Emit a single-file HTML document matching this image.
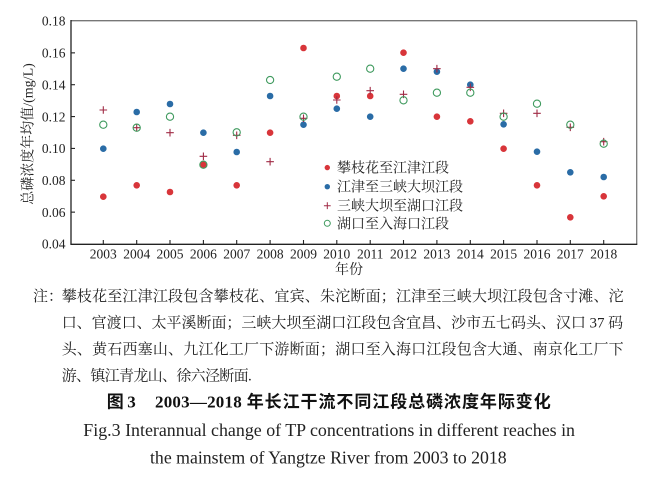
<!DOCTYPE html>
<html><head><meta charset="utf-8"><style>
html,body{margin:0;padding:0;background:#fff;}
svg{display:block;}
.tk{font-family:"Liberation Serif","Noto Serif CJK SC",serif;font-size:13.5px;fill:#222;}
.cj{font-family:"Liberation Serif","Noto Serif CJK SC",serif;fill:#222;}
</style></head><body>
<svg width="657" height="482" viewBox="0 0 657 482" xmlns="http://www.w3.org/2000/svg">
<rect width="657" height="482" fill="#fff"/>
<!-- frame -->
<line x1="71" y1="20.7" x2="636.7" y2="20.7" stroke="#777" stroke-width="1.3"/>
<line x1="636.7" y1="20.7" x2="636.7" y2="244.3" stroke="#777" stroke-width="1.3"/>
<line x1="71" y1="20" x2="71" y2="244.3" stroke="#222" stroke-width="1.3"/>
<line x1="70.4" y1="244.3" x2="637.3" y2="244.3" stroke="#222" stroke-width="1.3"/>
<!-- y ticks -->
<g stroke="#222" stroke-width="1.1">
<line x1="71" y1="52.86" x2="75" y2="52.86"/>
<line x1="71" y1="84.71" x2="75" y2="84.71"/>
<line x1="71" y1="116.57" x2="75" y2="116.57"/>
<line x1="71" y1="148.43" x2="75" y2="148.43"/>
<line x1="71" y1="180.29" x2="75" y2="180.29"/>
<line x1="71" y1="212.14" x2="75" y2="212.14"/>
</g>
<g class="tk" text-anchor="end">
<text x="65.5" y="25.7">0.18</text>
<text x="65.5" y="57.6">0.16</text>
<text x="65.5" y="89.4">0.14</text>
<text x="65.5" y="121.3">0.12</text>
<text x="65.5" y="153.1">0.10</text>
<text x="65.5" y="185">0.08</text>
<text x="65.5" y="216.8">0.06</text>
<text x="65.5" y="248.7">0.04</text>
</g>
<!-- x ticks -->
<g stroke="#222" stroke-width="1.1">
<line x1="103.3" y1="244.3" x2="103.3" y2="240"/>
<line x1="136.7" y1="244.3" x2="136.7" y2="240"/>
<line x1="170.0" y1="244.3" x2="170.0" y2="240"/>
<line x1="203.4" y1="244.3" x2="203.4" y2="240"/>
<line x1="236.7" y1="244.3" x2="236.7" y2="240"/>
<line x1="270.1" y1="244.3" x2="270.1" y2="240"/>
<line x1="303.5" y1="244.3" x2="303.5" y2="240"/>
<line x1="336.8" y1="244.3" x2="336.8" y2="240"/>
<line x1="370.2" y1="244.3" x2="370.2" y2="240"/>
<line x1="403.5" y1="244.3" x2="403.5" y2="240"/>
<line x1="436.9" y1="244.3" x2="436.9" y2="240"/>
<line x1="470.3" y1="244.3" x2="470.3" y2="240"/>
<line x1="503.6" y1="244.3" x2="503.6" y2="240"/>
<line x1="537.0" y1="244.3" x2="537.0" y2="240"/>
<line x1="570.3" y1="244.3" x2="570.3" y2="240"/>
<line x1="603.7" y1="244.3" x2="603.7" y2="240"/>
</g>
<g class="tk" text-anchor="middle">
<text x="103.3" y="258.7">2003</text>
<text x="136.7" y="258.7">2004</text>
<text x="170.0" y="258.7">2005</text>
<text x="203.4" y="258.7">2006</text>
<text x="236.7" y="258.7">2007</text>
<text x="270.1" y="258.7">2008</text>
<text x="303.5" y="258.7">2009</text>
<text x="336.8" y="258.7">2010</text>
<text x="370.2" y="258.7">2011</text>
<text x="403.5" y="258.7">2012</text>
<text x="436.9" y="258.7">2013</text>
<text x="470.3" y="258.7">2014</text>
<text x="503.6" y="258.7">2015</text>
<text x="537.0" y="258.7">2016</text>
<text x="570.3" y="258.7">2017</text>
<text x="603.7" y="258.7">2018</text>
</g>
<!-- axis titles -->
<text class="cj" font-size="14" text-anchor="middle" transform="translate(32.5,134) rotate(-90)">总磷浓度年均值/(mg/L)</text>
<text class="cj" font-size="14" text-anchor="middle" x="349" y="274">年份</text>

<!-- red dots -->
<g fill="#d8353a">
<circle cx="103.3" cy="196.7" r="3.3"/>
<circle cx="136.7" cy="185.3" r="3.3"/>
<circle cx="170.0" cy="192" r="3.3"/>
<circle cx="203.4" cy="164.7" r="3.3"/>
<circle cx="236.7" cy="185.3" r="3.3"/>
<circle cx="270.1" cy="132.7" r="3.3"/>
<circle cx="303.5" cy="48" r="3.3"/>
<circle cx="336.8" cy="96" r="3.3"/>
<circle cx="370.2" cy="96" r="3.3"/>
<circle cx="403.5" cy="52.7" r="3.3"/>
<circle cx="436.9" cy="116.7" r="3.3"/>
<circle cx="470.3" cy="121.3" r="3.3"/>
<circle cx="503.6" cy="148.7" r="3.3"/>
<circle cx="537.0" cy="185.3" r="3.3"/>
<circle cx="570.3" cy="217.3" r="3.3"/>
<circle cx="603.7" cy="196.3" r="3.3"/>
</g>
<!-- blue dots -->
<g fill="#2a6ca6">
<circle cx="103.3" cy="148.7" r="3.3"/>
<circle cx="136.7" cy="112" r="3.3"/>
<circle cx="170.0" cy="104" r="3.3"/>
<circle cx="203.4" cy="132.7" r="3.3"/>
<circle cx="236.7" cy="152" r="3.3"/>
<circle cx="270.1" cy="96" r="3.3"/>
<circle cx="303.5" cy="124.7" r="3.3"/>
<circle cx="336.8" cy="108.7" r="3.3"/>
<circle cx="370.2" cy="116.7" r="3.3"/>
<circle cx="403.5" cy="68.7" r="3.3"/>
<circle cx="436.9" cy="71.7" r="3.3"/>
<circle cx="470.3" cy="84.7" r="3.3"/>
<circle cx="503.6" cy="124.3" r="3.3"/>
<circle cx="537.0" cy="151.7" r="3.3"/>
<circle cx="570.3" cy="172.3" r="3.3"/>
<circle cx="603.7" cy="177" r="3.3"/>
</g>
<!-- plus -->
<g stroke="#a02a45" stroke-width="1.1" fill="none">
<path d="M99.5 110h7.6M103.3 106.2v7.6"/>
<path d="M132.9 127.7h7.6M136.7 123.9v7.6"/>
<path d="M166.2 132.7h7.6M170.0 128.9v7.6"/>
<path d="M199.6 156.3h7.6M203.4 152.5v7.6"/>
<path d="M232.9 135.3h7.6M236.7 131.5v7.6"/>
<path d="M266.3 161.7h7.6M270.1 157.9v7.6"/>
<path d="M299.7 118.3h7.6M303.5 114.5v7.6"/>
<path d="M333.0 100h7.6M336.8 96.2v7.6"/>
<path d="M366.4 90.7h7.6M370.2 86.9v7.6"/>
<path d="M399.7 94.3h7.6M403.5 90.5v7.6"/>
<path d="M433.1 68.7h7.6M436.9 64.9v7.6"/>
<path d="M466.5 87.3h7.6M470.3 83.5v7.6"/>
<path d="M499.8 113.3h7.6M503.6 109.5v7.6"/>
<path d="M533.2 113.3h7.6M537.0 109.5v7.6"/>
<path d="M566.5 127.3h7.6M570.3 123.5v7.6"/>
<path d="M599.9 141.7h7.6M603.7 137.9v7.6"/>
</g>
<!-- green open circles -->
<g stroke="#3f9a5e" stroke-width="1.1" fill="none">
<circle cx="103.3" cy="124.7" r="3.6"/>
<circle cx="136.7" cy="127.7" r="3.6"/>
<circle cx="170.0" cy="116.7" r="3.6"/>
<circle cx="203.4" cy="164.7" r="3.6"/>
<circle cx="236.7" cy="132.3" r="3.6"/>
<circle cx="270.1" cy="80" r="3.6"/>
<circle cx="303.5" cy="116.7" r="3.6"/>
<circle cx="336.8" cy="76.7" r="3.6"/>
<circle cx="370.2" cy="68.7" r="3.6"/>
<circle cx="403.5" cy="100.3" r="3.6"/>
<circle cx="436.9" cy="92.7" r="3.6"/>
<circle cx="470.3" cy="92.7" r="3.6"/>
<circle cx="503.6" cy="116.7" r="3.6"/>
<circle cx="537.0" cy="103.7" r="3.6"/>
<circle cx="570.3" cy="124.7" r="3.6"/>
<circle cx="603.7" cy="143.7" r="3.6"/>
</g>

<!-- legend -->
<circle cx="327.3" cy="167.6" r="2.7" fill="#d8353a"/>
<circle cx="327.3" cy="186.7" r="2.7" fill="#2a6ca6"/>
<path d="M323.9 205.7h6.8M327.3 202.3v6.8" stroke="#a02a45" stroke-width="1" fill="none"/>
<circle cx="327.3" cy="223.3" r="3" fill="none" stroke="#3f9a5e" stroke-width="1"/>
<g class="cj" font-size="14">
<text x="337" y="172.6" textLength="112" lengthAdjust="spacing">攀枝花至江津江段</text>
<text x="337" y="191.7" textLength="126" lengthAdjust="spacing">江津至三峡大坝江段</text>
<text x="337" y="210.7" textLength="126" lengthAdjust="spacing">三峡大坝至湖口江段</text>
<text x="337" y="228.3" textLength="112" lengthAdjust="spacing">湖口至入海口江段</text>
</g>

<!-- notes -->
<g class="cj" font-size="15">
<text x="33" y="301">注：</text>
<text x="61.7" y="301" textLength="562" lengthAdjust="spacing">攀枝花至江津江段包含攀枝花、宜宾、朱沱断面；江津至三峡大坝江段包含寸滩、沱</text>
<text x="61.7" y="327.5" textLength="561.5" lengthAdjust="spacing">口、官渡口、太平溪断面；三峡大坝至湖口江段包含宜昌、沙市五七码头、汉口 37 码</text>
<text x="61.7" y="354" textLength="562" lengthAdjust="spacing">头、黄石西塞山、九江化工厂下游断面；湖口至入海口江段包含大通、南京化工厂下</text>
<text x="61.7" y="380.5" textLength="190" lengthAdjust="spacing">游、镇江青龙山、徐六泾断面.</text>
</g>

<!-- title -->
<g font-weight="bold" font-size="17" fill="#111" style="font-family:'Liberation Serif','Noto Sans CJK SC',sans-serif">
<text x="106.7" y="407.5">图</text>
<text x="127.3" y="407.5">3</text>
<text x="155" y="407.5" textLength="86.7" lengthAdjust="spacing">2003—2018</text>
<text x="246.7" y="407.5" textLength="304" lengthAdjust="spacing" style="font-family:'Noto Sans CJK SC',sans-serif">年长江干流不同江段总磷浓度年际变化</text>
</g>
<g font-size="17.5" fill="#222" style="font-family:'Liberation Serif',serif">
<text x="83.3" y="436" textLength="491.7" lengthAdjust="spacingAndGlyphs">Fig.3 Interannual change of TP concentrations in different reaches in</text>
<text x="150" y="463.5" textLength="356.7" lengthAdjust="spacingAndGlyphs">the mainstem of Yangtze River from 2003 to 2018</text>
</g>
</svg>
</body></html>
